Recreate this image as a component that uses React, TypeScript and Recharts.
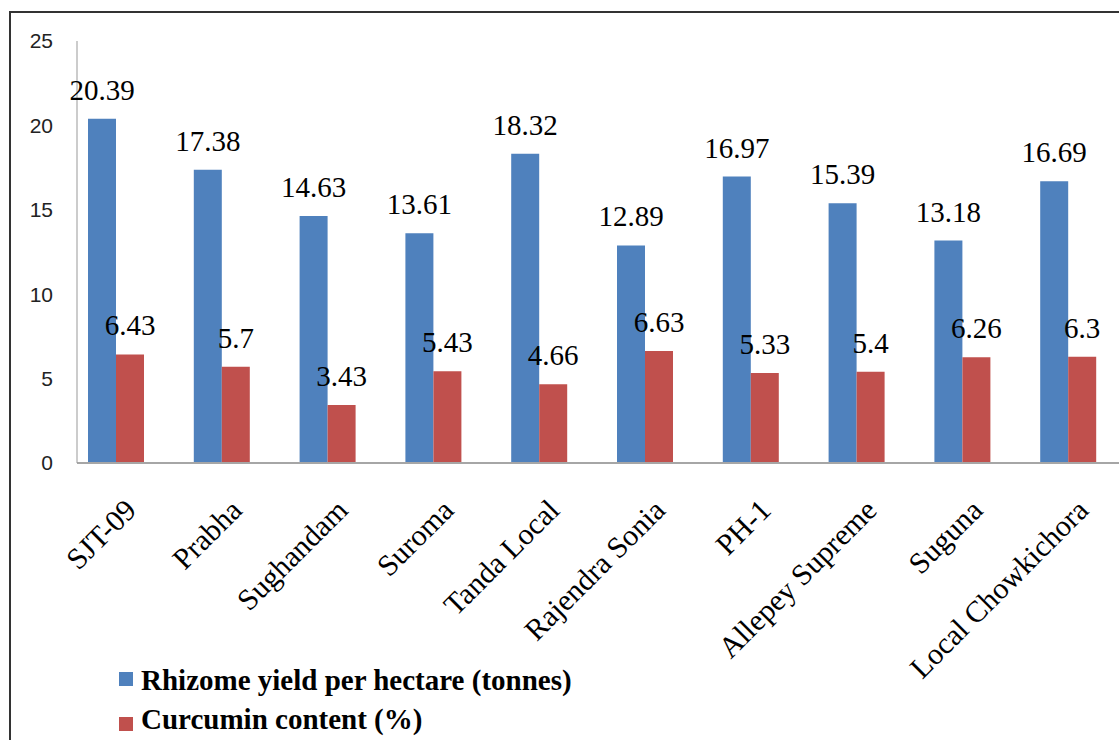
import * as React from 'react';
import { BarChart, Bar, XAxis, YAxis } from 'recharts';

const varieties = [
  'SJT-09',
  'Prabha',
  'Sughandam',
  'Suroma',
  'Tanda Local',
  'Rajendra Sonia',
  'PH-1',
  'Allepey Supreme',
  'Suguna',
  'Local Chowkichora',
];
const rhizomeYield = [20.39, 17.38, 14.63, 13.61, 18.32, 12.89, 16.97, 15.39, 13.18, 16.69];
const curcumin = [6.43, 5.7, 3.43, 5.43, 4.66, 6.63, 5.33, 5.4, 6.26, 6.3];
const yTicks = [0, 5, 10, 15, 20, 25];

const series = [
  { key: 'rhizome', name: 'Rhizome yield per hectare (tonnes)', color: '#4F81BD' },
  { key: 'curcumin', name: 'Curcumin content (%)', color: '#C0504D' },
];

const data = varieties.map((name, i) => ({
  name,
  rhizome: rhizomeYield[i],
  curcumin: curcumin[i],
}));

const serif = '"Liberation Serif", "Times New Roman", serif';

function CategoryTick(props: any) {
  const { x, y, payload } = props;
  return (
    <g transform={`translate(${x + 22},${y + 49})`}>
      <text transform='rotate(-45)' textAnchor='end' fontFamily={serif} fontSize={30} fill='#000'>
        {payload.value}
      </text>
    </g>
  );
}

const renderValue = (props: any) => {
  const { x, y, width, value, index } = props;
  return (
    <text
      key={index}
      x={x + width / 2}
      y={y - 19}
      textAnchor='middle'
      style={{ fontFamily: serif, fontSize: 29, fill: '#000' }}
    >
      {value}
    </text>
  );
};

export default function App() {
  return (
    <div
      style={{
        position: 'fixed',
        left: 0,
        top: 0,
        width: 1119,
        height: 740,
        background: '#fff',
        overflow: 'hidden',
      }}
    >
      <div
        style={{
          position: 'absolute',
          left: 9,
          top: 11,
          width: 1200,
          height: 800,
          border: '2px solid #333',
          boxSizing: 'border-box',
        }}
      />
      <div style={{ position: 'absolute', left: 0, top: 0 }}>
        <BarChart
          width={1119}
          height={740}
          data={data}
          barSize={28}
          barGap={0}
          margin={{ top: 41, right: 0, left: 17, bottom: 77 }}
        >
          <XAxis
            dataKey='name'
            height={200}
            interval={0}
            tickLine={false}
            tickSize={0}
            tickMargin={0}
            padding={{ left: -14, right: -2 }}
            axisLine={{ stroke: '#A6A6A6', strokeWidth: 2 }}
            tick={<CategoryTick />}
          />
          <YAxis
            width={60}
            domain={[0, 25]}
            ticks={yTicks}
            tickLine={false}
            tickSize={0}
            tickMargin={24}
            axisLine={{ stroke: '#999', strokeWidth: 1 }}
            tick={{ fontFamily: '"Liberation Sans", Arial, sans-serif', fontSize: 21, fill: '#222' }}
          />
          {series.map((s) => (
            <Bar
              key={s.key}
              dataKey={s.key}
              name={s.name}
              fill={s.color}
              isAnimationActive={false}
              label={renderValue}
            />
          ))}
        </BarChart>
      </div>
      <svg style={{ position: 'absolute', left: 0, top: 0 }} width={1119} height={740} pointerEvents='none'>
        {series.map((s, i) => (
          <g key={s.key}>
            <rect x={119} y={672 + i * 45} width={14} height={14} fill={s.color} />
            <text x={141} y={690 + i * 39} fontFamily={serif} fontSize={29} fontWeight='bold' fill='#000'>
              {s.name}
            </text>
          </g>
        ))}
      </svg>
    </div>
  );
}
